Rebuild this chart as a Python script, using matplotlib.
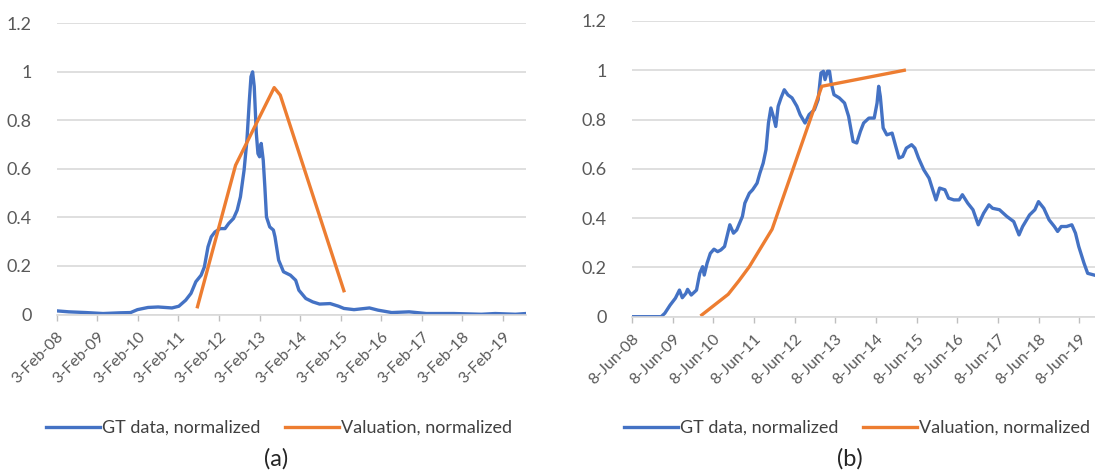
import matplotlib
matplotlib.use("Agg")
import matplotlib.pyplot as plt
from datetime import datetime, timedelta

# ---------------- data (x in decimal years, y normalized) ----------------
a_gt_x = [2008.09, 2008.39, 2008.81, 2009.23, 2009.66, 2009.91, 2010.08, 2010.34, 2010.59, 2010.93,
          2011.10, 2011.27, 2011.40, 2011.52, 2011.65, 2011.73, 2011.82, 2011.90, 2011.99, 2012.12,
          2012.24, 2012.33, 2012.45, 2012.54, 2012.62, 2012.71, 2012.78, 2012.84, 2012.88, 2012.92,
          2012.96, 2013.01, 2013.05, 2013.09, 2013.13, 2013.18, 2013.22, 2013.26, 2013.34, 2013.43,
          2013.47, 2013.56, 2013.68, 2013.85, 2013.98, 2014.06, 2014.23, 2014.40, 2014.57, 2014.83,
          2015.04, 2015.17, 2015.42, 2015.80, 2016.01, 2016.35, 2016.78, 2017.20, 2017.88, 2018.56,
          2018.90, 2019.40, 2019.66]
a_gt_y = [0.015, 0.011, 0.008, 0.004, 0.007, 0.008, 0.020, 0.029, 0.031, 0.027,
          0.034, 0.059, 0.087, 0.135, 0.162, 0.196, 0.279, 0.320, 0.340, 0.354,
          0.354, 0.375, 0.396, 0.430, 0.485, 0.595, 0.718, 0.883, 0.980, 1.000,
          0.940, 0.746, 0.663, 0.650, 0.705, 0.636, 0.526, 0.402, 0.361, 0.348,
          0.320, 0.224, 0.176, 0.162, 0.141, 0.100, 0.066, 0.052, 0.043, 0.045,
          0.034, 0.025, 0.020, 0.027, 0.018, 0.008, 0.011, 0.004, 0.004, 0.001,
          0.004, 0.001, 0.004]
a_val_x = [2011.56, 2012.50, 2013.45, 2013.60, 2015.17]
a_val_y = [0.032, 0.615, 0.935, 0.904, 0.098]

b_gt_x = [2008.44, 2009.15, 2009.24, 2009.37, 2009.50, 2009.60, 2009.67, 2009.76, 2009.80, 2009.89,
          2010.02, 2010.10, 2010.17, 2010.21, 2010.28, 2010.36, 2010.45, 2010.54, 2010.62, 2010.71,
          2010.84, 2010.93, 2011.01, 2011.15, 2011.21, 2011.32, 2011.40, 2011.51, 2011.58, 2011.66,
          2011.73, 2011.79, 2011.85, 2011.91, 2011.97, 2012.03, 2012.10, 2012.18, 2012.27, 2012.37,
          2012.49, 2012.57, 2012.69, 2012.79, 2012.92, 2013.01, 2013.08, 2013.14, 2013.18, 2013.24,
          2013.29, 2013.33, 2013.40, 2013.53, 2013.66, 2013.76, 2013.87, 2013.96, 2014.05, 2014.13,
          2014.26, 2014.39, 2014.46, 2014.50, 2014.54, 2014.61, 2014.70, 2014.83, 2014.92, 2015.00,
          2015.09, 2015.18, 2015.31, 2015.39, 2015.48, 2015.61, 2015.74, 2015.83, 2015.91, 2016.00,
          2016.13, 2016.22, 2016.35, 2016.48, 2016.56, 2016.69, 2016.82, 2016.95, 2017.08, 2017.21,
          2017.30, 2017.47, 2017.65, 2017.82, 2017.95, 2018.04, 2018.21, 2018.34, 2018.43, 2018.56,
          2018.69, 2018.82, 2018.90, 2018.99, 2019.12, 2019.25, 2019.34, 2019.42, 2019.55, 2019.64,
          2019.80]
b_gt_y = [0.000, 0.000, 0.014, 0.047, 0.075, 0.108, 0.077, 0.095, 0.111, 0.088,
          0.108, 0.176, 0.203, 0.169, 0.217, 0.257, 0.274, 0.264, 0.271, 0.285,
          0.373, 0.339, 0.352, 0.407, 0.461, 0.501, 0.515, 0.542, 0.583, 0.623,
          0.678, 0.786, 0.847, 0.813, 0.772, 0.854, 0.888, 0.921, 0.900, 0.888,
          0.854, 0.820, 0.786, 0.820, 0.840, 0.881, 0.989, 0.996, 0.962, 0.996,
          0.996, 0.949, 0.901, 0.888, 0.867, 0.813, 0.711, 0.705, 0.752, 0.786,
          0.806, 0.806, 0.867, 0.935, 0.894, 0.766, 0.738, 0.745, 0.691, 0.644,
          0.650, 0.684, 0.698, 0.684, 0.644, 0.596, 0.562, 0.515, 0.474, 0.522,
          0.515, 0.481, 0.474, 0.474, 0.495, 0.461, 0.434, 0.373, 0.420, 0.454,
          0.440, 0.434, 0.407, 0.386, 0.332, 0.366, 0.413, 0.434, 0.467, 0.440,
          0.393, 0.366, 0.346, 0.366, 0.366, 0.373, 0.339, 0.285, 0.217, 0.176,
          0.169]
b_val_x = [2010.15, 2010.80, 2011.06, 2011.32, 2011.88, 2013.10, 2015.13]
b_val_y = [0.007, 0.091, 0.145, 0.203, 0.355, 0.935, 1.000]

a_ticks = ["3-Feb-08", "3-Feb-09", "3-Feb-10", "3-Feb-11", "3-Feb-12", "3-Feb-13",
           "3-Feb-14", "3-Feb-15", "3-Feb-16", "3-Feb-17", "3-Feb-18", "3-Feb-19"]
b_ticks = ["8-Jun-08", "8-Jun-09", "8-Jun-10", "8-Jun-11", "8-Jun-12", "8-Jun-13",
           "8-Jun-14", "8-Jun-15", "8-Jun-16", "8-Jun-17", "8-Jun-18", "8-Jun-19"]
y_ticks = [0, 0.2, 0.4, 0.6, 0.8, 1.0, 1.2]
y_labels = ["0", "0.2", "0.4", "0.6", "0.8", "1", "1.2"]
series_names = ["GT data, normalized", "Valuation, normalized"]
captions = ["(a)", "(b)"]


def dy(v):
    y = int(v)
    return datetime(y, 1, 1) + timedelta(days=(v - y) * 365.25)


BLUE = "#4472C4"
ORANGE = "#ED7D31"
GRID = "#D9D9D9"
TXT = "#595959"

plt.rcParams['font.family'] = ['Lato', 'DejaVu Sans']

W, H = 1095, 473
fig = plt.figure(figsize=(W / 100, H / 100), dpi=100)


def make(ax_rect, gx, gy, vx, vy, ticks, start, xmax, leg_center):
    ax = fig.add_axes(ax_rect)
    l1, = ax.plot([dy(v) for v in gx], gy, color=BLUE, lw=2.4, solid_joinstyle='round')
    l2, = ax.plot([dy(v) for v in vx], vy, color=ORANGE, lw=2.4, solid_joinstyle='round')
    ax.set_ylim(0, 1.2)
    ax.set_xlim(dy(start), dy(xmax))
    ax.set_yticks(y_ticks)
    ax.set_yticklabels(y_labels)
    d0 = datetime.strptime(ticks[0], "%d-%b-%y")
    tpos = [datetime(d0.year + i, d0.month, d0.day) for i in range(len(ticks))]
    ax.set_xticks(tpos)
    ax.set_xticklabels(ticks, rotation=45, ha='right', va='top', rotation_mode='anchor')
    ax.tick_params(axis='y', length=0, pad=18, labelsize=13, labelcolor=TXT)
    ax.tick_params(axis='x', length=4, width=1, color='#BFBFBF', pad=7, labelsize=11.5, labelcolor=TXT)
    ax.grid(axis='y', color=GRID, lw=1.2)
    ax.set_axisbelow(True)
    for s in ['top', 'right', 'left']:
        ax.spines[s].set_visible(False)
    ax.spines['bottom'].set_color(GRID)
    ax.spines['bottom'].set_linewidth(1.2)
    ax.legend([l1, l2], series_names, loc='center', bbox_to_anchor=leg_center,
              bbox_transform=fig.transFigure, ncol=2, frameon=False, fontsize=13,
              handlelength=3.0, handletextpad=0.1, columnspacing=1.4, labelcolor='#404040')
    return ax


make([56.7 / W, 158.5 / H, (526 - 56.7) / W, (449.7 - 158.5) / H],
     a_gt_x, a_gt_y, a_val_x, a_val_y, a_ticks, 2008.09, 2019.66,
     (279 / W, (H - 428) / H))
make([632 / W, 156.3 / H, (1095 - 632) / W, (452 - 156.3) / H],
     b_gt_x, b_gt_y, b_val_x, b_val_y, b_ticks, 2008.44, 2019.82,
     (857 / W, (H - 428) / H))

fig.text(276 / W, (H - 459) / H, captions[0], ha='center', va='center', fontsize=17, color='#262626')
fig.text(850 / W, (H - 459) / H, captions[1], ha='center', va='center', fontsize=17, color='#262626')

fig.savefig("out.png", dpi=100)
